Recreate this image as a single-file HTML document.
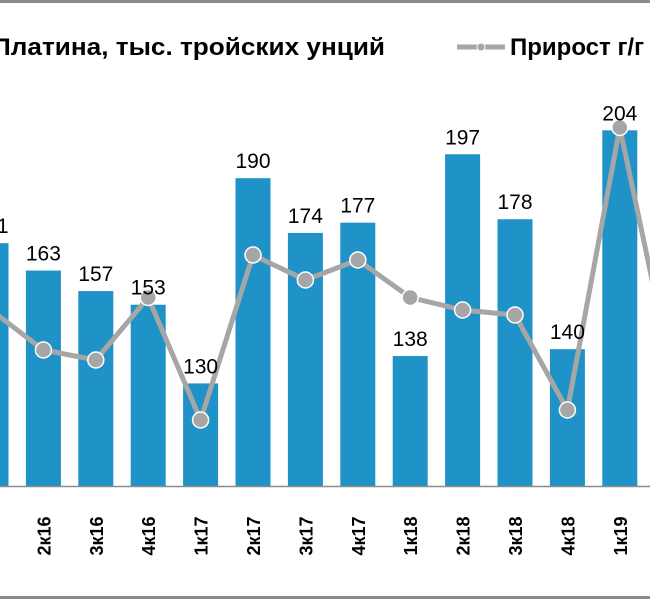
<!DOCTYPE html>
<html><head><meta charset="utf-8"><style>
body{margin:0;background:#fff;}
svg{display:block;font-family:"Liberation Sans",sans-serif;}
</style></head><body>
<svg id="c" width="650" height="600">
<rect x="0" y="0" width="650" height="600" fill="#fff"/>
<line x1="0" y1="1.5" x2="650" y2="1.5" stroke="#8c8c8c" stroke-width="3"/>
<line x1="0" y1="597.5" x2="650" y2="597.5" stroke="#8c8c8c" stroke-width="3"/>
<g>
<text x="-8" y="55" font-size="24" font-weight="bold" fill="#000" textLength="393" lengthAdjust="spacingAndGlyphs">Платина, тыс. тройских унций</text>
<line x1="457" y1="47" x2="505" y2="47" stroke="#a6a6a6" stroke-width="5"/>
<circle cx="481" cy="47" r="4" fill="#a6a6a6" stroke="#fff" stroke-width="1"/>
<text x="510" y="55" font-size="24" font-weight="bold" fill="#000">Прирост г/г</text>
</g>
<g id="bars"></g><g id="line"></g><g id="labels"></g>
<line x1="0" y1="486.5" x2="650" y2="486.5" stroke="#8c8c8c" stroke-width="1.5"/>
</svg>
<script>
const categories=["1к16","2к16","3к16","4к16","1к17","2к17","3к17","4к17","1к18","2к18","3к18","4к18","1к19","2к19"];
const volumes=[171,163,157,153,130,190,174,177,138,197,178,140,204,175];
const growth=[-4,-20,-24,1,-48,18,8,16,1,-4,-6,-44,69,-30];
const ns="http://www.w3.org/2000/svg";
const x0=-9,step=52.4,bw=35;
const xPos=i=>x0+i*step;
const yBar=v=>486-(v-100)*3.42;
const yLine=g=>300-g*2.5;
const bars=document.getElementById('bars'),line=document.getElementById('line'),labels=document.getElementById('labels');
function mk(t,a){const e=document.createElementNS(ns,t);for(const k in a)e.setAttribute(k,a[k]);return e;}
categories.forEach((c,i)=>{
 const x=xPos(i),y=yBar(volumes[i]);
 const r=mk('rect',{x:x-bw/2,y:y,width:bw,height:486-y,fill:'#1f93c8'});
 
 
 bars.appendChild(r);
 const t=mk('text',{x:x,y:y-10,'text-anchor':'middle','font-size':21,fill:'#000'});
 t.textContent=volumes[i];
 
 
 labels.appendChild(t);
 const tl=mk('text',{transform:`translate(${x+7},${536}) rotate(-90)`,'text-anchor':'middle','font-size':18,'font-weight':'bold',fill:'#000'});
 tl.textContent=c;
 
 
 labels.appendChild(tl);
});
const pts=growth.map((g,i)=>xPos(i)+','+yLine(g)).join(' ');
const pl=mk('polyline',{points:pts,fill:'none',stroke:'#a6a6a6','stroke-width':5,'stroke-linejoin':'round'});


line.appendChild(pl);
growth.forEach((g,i)=>{
 const p=mk('circle',{cx:xPos(i),cy:yLine(g),r:8,fill:'#a6a6a6',stroke:'#fff','stroke-width':1.5});
 
 
 line.appendChild(p);
});
</script>
</body></html>
